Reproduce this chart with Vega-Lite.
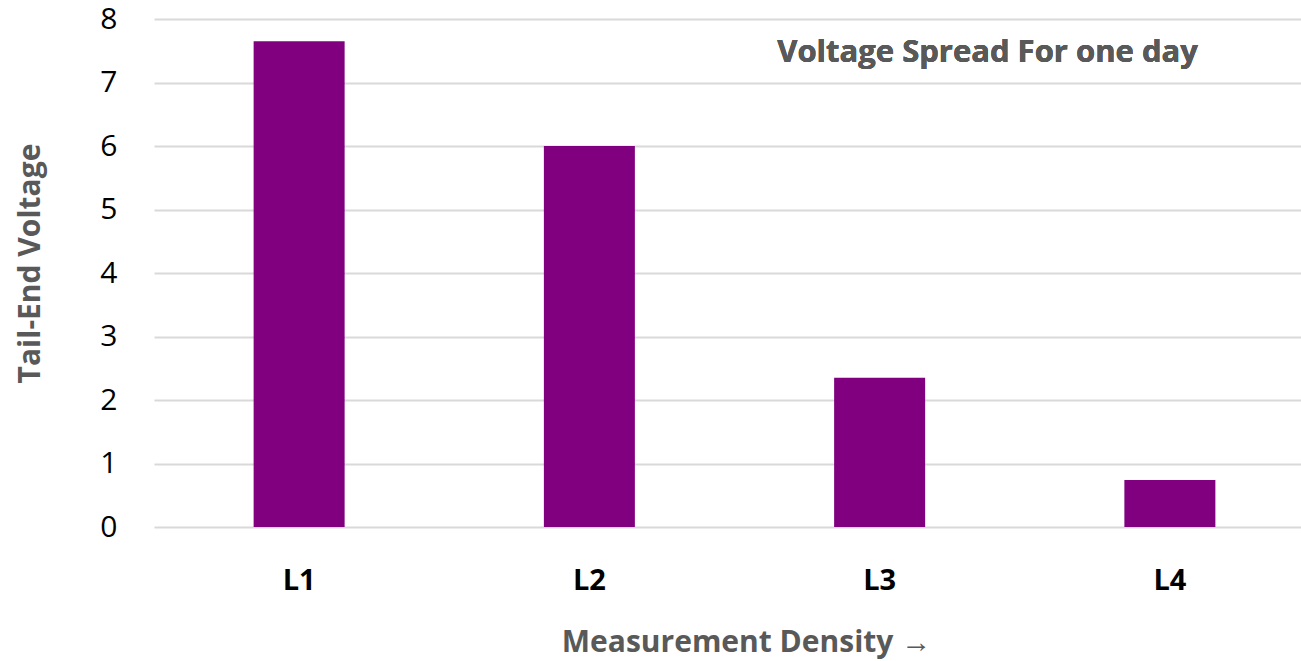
{
  "$schema": "https://vega.github.io/schema/vega-lite/v6.json",
  "width": 1147,
  "height": 508,
  "autosize": {"type": "none"},
  "padding": {"left": 154, "top": 19, "right": 0, "bottom": 134},
  "background": "white",
  "config": {"view": {"stroke": null}, "font": "Open Sans"},
  "data": {"values": [
    {"level": "L1", "voltage": 7.65},
    {"level": "L2", "voltage": 6.0},
    {"level": "L3", "voltage": 2.35},
    {"level": "L4", "voltage": 0.74}
  ]},
  "layer": [
    {
      "mark": {"type": "bar", "color": "#800080", "width": 91},
      "encoding": {
        "x": {
          "field": "level", "type": "nominal", "sort": null,
          "scale": {"range": [0, 1161], "paddingInner": 0, "paddingOuter": 0},
          "axis": {
            "title": "Measurement Density →", "titleFont": "Open Sans", "titleFontSize": 30, "titleFontWeight": "bold", "titleColor": "#595959",
            "titleX": 592, "titleY": 115, "titleBaseline": "middle",
            "labelAngle": 0, "labelFont": "Open Sans", "labelFontSize": 29, "labelFontWeight": "bold", "labelColor": "#000000",
            "labelPadding": 53, "labelBaseline": "middle", "ticks": false, "domain": false
          }
        },
        "y": {
          "field": "voltage", "type": "quantitative",
          "scale": {"domain": [0, 8]},
          "axis": {
            "title": "Tail-End Voltage", "titleFont": "Open Sans", "titleFontSize": 30, "titleFontWeight": "bold", "titleColor": "#595959",
            "titleX": -124, "titleY": 244, "titleAngle": -90, "titleBaseline": "middle", "titleAlign": "center",
            "values": [0, 1, 2, 3, 4, 5, 6, 7, 8], "format": "d", "labelFont": "Open Sans", "labelFontSize": 30, "labelColor": "#000000",
            "labelPadding": 37, "ticks": false, "domain": false,
            "grid": true, "gridColor": "#d9d9d9", "gridWidth": 2
          }
        }
      }
    },
    {
      "mark": {"type": "text", "text": "Voltage Spread For one day", "font": "Open Sans", "fontSize": 31, "fontWeight": "bold", "color": "#595959", "align": "right", "baseline": "middle", "dx": 28},
      "encoding": {
        "x": {"datum": "L4", "type": "nominal"},
        "y": {"datum": 7.46, "type": "quantitative"}
      }
    }
  ]
}
